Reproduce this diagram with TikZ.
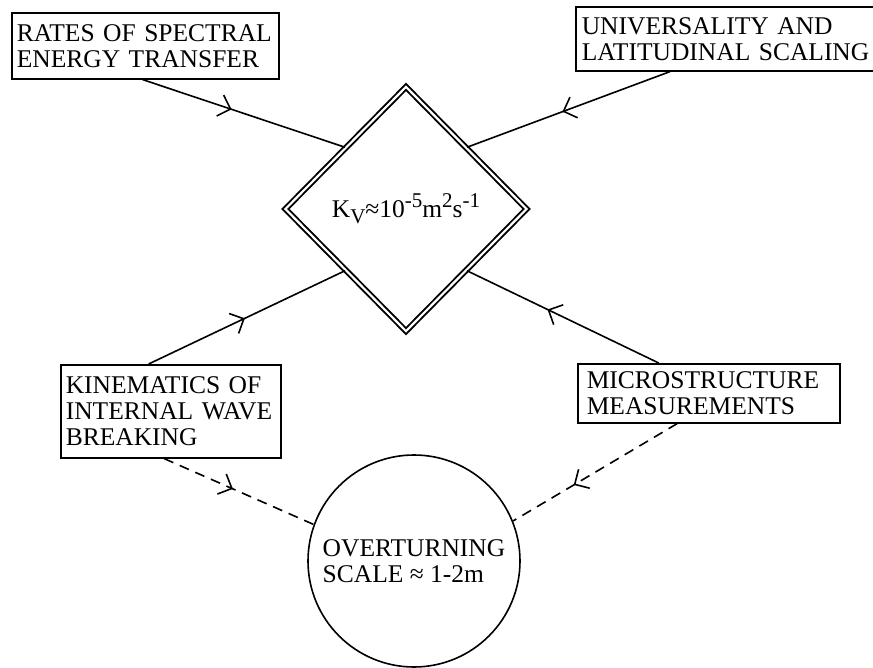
\documentclass[tikz,border=0pt]{standalone}
\usepackage{fontspec}
\setmainfont{Liberation Serif}
\usetikzlibrary{shapes.geometric,arrows.meta,decorations.markings,calc}
\newcommand\mysup[1]{\raisebox{0.36em}{\fontsize{21}{21}\selectfont #1}}
\newcommand\mysub[1]{\raisebox{-0.26em}{\fontsize{21}{21}\selectfont #1}}
\begin{document}
\begin{tikzpicture}[x=1pt,y=-1pt,
  txt/.style={font=\fontsize{25.5}{26}\selectfont},
  box/.style={txt,draw,line width=1.6pt,anchor=north west,align=left,inner ysep=0pt},
  conn/.style={line width=1.6pt},
  dconn/.style={conn,dash pattern=on 10pt off 7pt},
  midarrow/.style={postaction={decorate,decoration={markings,
     mark=at position #1 with {\arrow[line width=1.6pt]{Straight Barb[length=11pt,width=22pt]}}}}}
]
\useasboundingbox (0,0) rectangle (873,668);
\clip (0,0) rectangle (873,668);
% boxes
\node[box,minimum width=267pt,minimum height=66pt,text width=257pt,inner xsep=5pt] (b1) at (11,12)
  {RATES OF SPECTRAL\\ENERGY TRANSFER};
\node[box,minimum width=305pt,minimum height=64pt,text width=293pt,inner xsep=6pt] (b2) at (575,6)
  {UNIVERSALITY AND\\LATITUDINAL SCALING};
\node[box,minimum width=220pt,minimum height=93pt,text width=210pt,inner xsep=5pt] (b3) at (60,364)
  {KINEMATICS OF\\INTERNAL WAVE\\BREAKING};
\node[box,minimum width=262pt,minimum height=59pt,text width=244pt,inner xsep=9pt] (b4) at (577,363)
  {MICROSTRUCTURE\\MEASUREMENTS};
% diamond
\node[txt,draw,shape=diamond,minimum width=242pt,minimum height=245pt,inner sep=0pt,
  line width=1.9pt,double,double distance=2.2pt] (dia) at (406,209)
  {K\mysub{V}≈10\mysup{-5}m\mysup{2}s\mysup{-1}};
% circle
\node[txt,draw,circle,minimum size=212pt,inner sep=0pt,line width=1.6pt,align=left] (circ) at (414,561)
  {OVERTURNING\\SCALE ≈ 1-2m};
% anchor points
\coordinate (b1s) at ($(b1.south west)!0.49!(b1.south east)$);
\coordinate (b2s) at ($(b2.south west)!0.31!(b2.south east)$);
\coordinate (b3n) at ($(b3.north west)!0.40!(b3.north east)$);
\coordinate (b3s) at ($(b3.south west)!0.47!(b3.south east)$);
\coordinate (b4n) at ($(b4.north west)!0.31!(b4.north east)$);
\coordinate (b4s) at ($(b4.south west)!0.38!(b4.south east)$);
\coordinate (dnw) at ($(dia.west)!0.5!(dia.north)$);
\coordinate (dne) at ($(dia.east)!0.5!(dia.north)$);
\coordinate (dsw) at ($(dia.west)!0.5!(dia.south)$);
\coordinate (dse) at ($(dia.east)!0.5!(dia.south)$);
% connectors
\draw[conn,midarrow=0.44] (b1s) -- (dnw);
\draw[conn,midarrow=0.53] (b2s) -- (dne);
\draw[conn,midarrow=0.49] (b3n) -- (dsw);
\draw[conn,midarrow=0.58] (b4n) -- (dse);
\draw[dconn,midarrow=0.46] (b3s) -- (circ.160);
\draw[dconn,midarrow=0.63] (b4s) -- (circ.22);
\end{tikzpicture}
\end{document}
